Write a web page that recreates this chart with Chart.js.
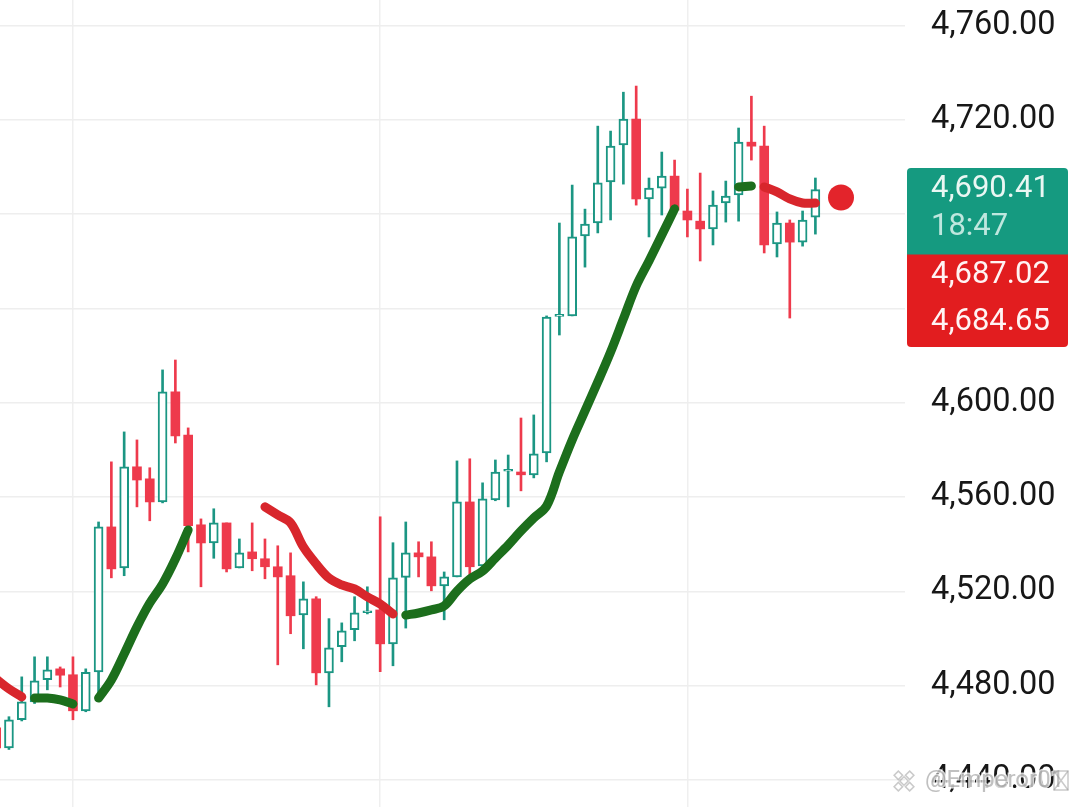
<!DOCTYPE html>
<html>
<head>
<meta charset="utf-8">
<script src="https://cdn.jsdelivr.net/npm/chart.js@4.4.1/dist/chart.umd.min.js"></script>
<style>
  html, body { margin: 0; padding: 0; background: #ffffff; }
  #wrap { width: 1080px; height: 807px; }
</style>
</head>
<body>
<div id="wrap"><canvas id="chart" width="1080" height="807"></canvas></div>
<script>
// bar number of each candle (the first one is only half on screen)
var barIndex = [-1, 0, 1, 2, 3, 4, 5, 6, 7, 8, 9, 10, 11, 12, 13, 14, 15, 16, 17, 18, 19,
    20, 21, 22, 23, 24, 25, 26, 27, 28, 29, 30, 31, 32, 33, 34, 35, 36, 37, 38, 39,
    40, 41, 42, 43, 44, 45, 46, 47, 48, 49, 50, 51, 52, 53, 54, 55, 56, 57, 58, 59,
    60, 61, 62, 63];

var opens = [4462.1, 4453.6, 4465.5, 4473.1, 4482.5, 4487.1, 4484.6, 4469.3, 4485.8, 4547.3,
    4529.9, 4572.8, 4567.7, 4557.9, 4604.6, 4586.3, 4548.2, 4540.5, 4549.0, 4529.9,
    4536.7, 4533.8, 4530.4, 4526.6, 4510.0, 4516.8, 4485.4, 4496.5, 4503.7, 4510.9,
    4512.1, 4497.7, 4525.9, 4536.3, 4534.6, 4522.3, 4526.1, 4557.9, 4530.8, 4558.8,
    4570.9, 4570.6, 4569.4, 4578.7, 4636.6, 4636.8, 4670.7, 4676.2, 4693.6, 4709.3,
    4720.3, 4686.4, 4691.0, 4696.1, 4681.3, 4677.0, 4673.7, 4684.7, 4688.1, 4710.5,
    4708.8, 4667.3, 4676.2, 4668.1, 4678.7];
var highs = [4463.5, 4466.8, 4483.7, 4492.2, 4492.2, 4487.9, 4492.2, 4487.1, 4549.4, 4574.9,
    4587.6, 4584.2, 4572.4, 4613.9, 4618.1, 4589.3, 4550.7, 4555.0, 4549.0, 4542.2,
    4549.0, 4542.2, 4539.3, 4536.3, 4524.0, 4517.7, 4508.4, 4506.6, 4517.7, 4521.9,
    4551.6, 4540.6, 4549.4, 4541.0, 4541.0, 4528.2, 4575.3, 4576.2, 4566.0, 4575.7,
    4577.8, 4593.5, 4594.8, 4636.8, 4676.2, 4692.3, 4682.1, 4717.3, 4715.2, 4731.7,
    4734.3, 4695.3, 4706.3, 4702.9, 4690.6, 4697.4, 4689.8, 4694.0, 4716.5, 4730.0,
    4717.3, 4680.9, 4677.5, 4681.3, 4695.3];
var lows = [4449.5, 4452.9, 4465.0, 4472.4, 4478.2, 4479.4, 4465.5, 4468.9, 4475.3, 4525.7,
    4526.6, 4555.8, 4549.9, 4557.5, 4582.9, 4536.7, 4521.9, 4534.0, 4528.2, 4529.9,
    4528.7, 4525.3, 4488.8, 4502.0, 4495.6, 4480.3, 4471.0, 4490.1, 4499.0, 4510.4,
    4485.9, 4488.4, 4504.4, 4526.1, 4520.2, 4507.9, 4526.1, 4526.1, 4530.8, 4558.4,
    4555.8, 4562.6, 4568.1, 4574.9, 4628.7, 4636.8, 4657.5, 4672.0, 4677.5, 4692.7,
    4683.8, 4670.3, 4679.6, 4681.7, 4670.3, 4660.1, 4666.9, 4676.6, 4677.0, 4702.9,
    4663.5, 4661.8, 4635.9, 4666.4, 4671.5];
var closes = [4453.6, 4465.5, 4473.1, 4482.0, 4486.7, 4484.4, 4469.3, 4485.6, 4547.3, 4529.5,
    4572.8, 4567.2, 4557.9, 4604.6, 4585.9, 4547.8, 4540.5, 4549.0, 4529.5, 4536.3,
    4533.8, 4530.4, 4526.1, 4509.6, 4516.8, 4485.4, 4496.0, 4503.2, 4510.9, 4511.7,
    4497.7, 4525.7, 4536.3, 4534.6, 4522.3, 4526.1, 4557.9, 4530.4, 4559.2, 4570.6,
    4571.3, 4569.4, 4578.3, 4636.3, 4637.0, 4670.3, 4675.8, 4693.2, 4708.8, 4720.3,
    4686.4, 4691.0, 4696.1, 4681.7, 4677.5, 4673.7, 4683.8, 4687.6, 4710.5, 4708.8,
    4666.9, 4676.2, 4668.1, 4677.5, 4690.41];

// trend line, split in rising (green) and falling (red) parts; null = no line there
var trendUp = [null, null, null, 4474.7, 4474.7, 4473.9, 4472.2, null, 4474.7, 4482.4,
    4493.4, 4504.9, 4515.0, 4523.1, 4533.7, 4546.0, null, null, null, null,
    null, null, null, null, null, null, null, null, null, null,
    null, null, 4509.9, 4510.8, 4512.1, 4513.8, 4520.1, 4525.2, 4528.6, 4534.1,
    4539.6, 4545.6, 4551.1, 4556.2, 4570.6, 4584.2, 4596.5, 4608.8, 4621.5, 4635.5,
    4649.5, 4660.1, 4671.1, 4682.2, null, null, null, null, 4691.5, 4691.9,
    null, null, null, null, null];
var trendDown = [4482.8, 4478.6, 4475.2, null, null, null, null, null, null, null,
    null, null, null, null, null, null, null, null, null, null,
    null, 4555.8, 4552.4, 4549.0, 4538.8, 4531.6, 4525.6, 4522.7, 4521.0, 4517.6,
    4514.6, 4510.4, null, null, null, null, null, null, null, null,
    null, null, null, null, null, null, null, null, null, null,
    null, null, null, null, null, null, null, null, null, null,
    4691.5, 4689.4, 4686.4, 4684.7, 4684.65];

var priceTicks = [4440, 4480, 4520, 4560, 4600, 4640, 4680, 4720, 4760];
var timeGrid = [5, 29, 53];

var dotIndex = 65;
var dotPrice = 4687.02;
var trendLast = 4684.65;
var countdown = "18:47";

const UP_COLOR = "#1b9683";
const DOWN_COLOR = "#ee3a4c";
const TREND_GREEN = "#1c6e1c";
const TREND_RED = "#d8262c";
const TAG_GREEN = "#159a80";
const TAG_RED = "#e21d1f";


function isUp(i) {
    return closes[i] >= opens[i];
}

function fmt(v) {
    return v.toLocaleString("en-US", { minimumFractionDigits: 2, maximumFractionDigits: 2 });
}

function points(values) {
    return barIndex.map(function (k, i) { return { x: k, y: values[i] }; });
}

// the labels must not push the plot away from the canvas edges
function noPadding(scale) {
    scale.paddingTop = 0;
    scale.paddingBottom = 0;
    scale.paddingLeft = 0;
    scale.paddingRight = 0;
}


// price tags on the axis and the watermark
var overlay = {
    id: "overlay",
    afterDraw: function (chart) {
        var c = chart.ctx;
        var y = chart.scales.y;
        var left = chart.chartArea.right + 2;
        var w = 161;
        var textX = left + 24;
        var top = Math.round(y.getPixelForValue(closes[closes.length - 1]) - 22);

        c.save();
        c.textBaseline = "middle";
        c.textAlign = "left";
        c.font = "31px Roboto";

        // red tags first so that they touch the green one without a seam
        c.fillStyle = TAG_RED;
        c.beginPath();
        c.roundRect(left, top + 80, w, 53, [0, 4, 0, 0]);
        c.fill();
        c.beginPath();
        c.roundRect(left, top + 132, w, 47, [0, 0, 4, 4]);
        c.fill();
        c.fillStyle = "#fff4f4";
        c.fillText(fmt(dotPrice), textX, top + 107);
        c.fillText(fmt(trendLast), textX, top + 154);

        c.fillStyle = TAG_GREEN;
        c.beginPath();
        c.roundRect(left, top, w, 86.5, [4, 4, 0, 0]);
        c.fill();
        c.fillStyle = "#eaf7f3";
        c.fillText(fmt(closes[closes.length - 1]), textX, top + 21);
        c.fillStyle = "#bfe7de";
        c.fillText(countdown, textX, top + 59);

        // watermark
        c.font = "24px Roboto";
        c.lineWidth = 3;
        c.strokeStyle = "rgba(255,255,255,0.8)";
        c.fillStyle = "rgba(140,140,140,0.55)";
        c.strokeText("@Emperor01", 925, 781);
        c.fillText("@Emperor01", 925, 781);

        c.strokeStyle = "rgba(150,150,150,0.5)";
        c.lineWidth = 1.5;
        c.translate(904, 781);
        c.rotate(Math.PI / 4);
        c.strokeRect(-3, -3, 6, 6);
        c.strokeRect(-11, -3, 6, 6);
        c.strokeRect(5, -3, 6, 6);
        c.strokeRect(-3, -11, 6, 6);
        c.strokeRect(-3, 5, 6, 6);
        c.rotate(-Math.PI / 4);
        c.translate(-904, -781);

        c.strokeRect(1054, 771, 14, 19);
        c.beginPath();
        c.moveTo(1054, 771); c.lineTo(1068, 790);
        c.moveTo(1068, 771); c.lineTo(1054, 790);
        c.stroke();
        c.restore();
    }
};


function initChart() {
    Chart.defaults.font.family = "Roboto";

    new Chart(document.getElementById("chart"), {
        type: "bar",
        data: {
            datasets: [
                {
                    type: "line",
                    label: "trend up",
                    data: points(trendUp),
                    borderColor: TREND_GREEN,
                    borderWidth: 9,
                    borderCapStyle: "round",
                    borderJoinStyle: "round",
                    pointRadius: 0,
                    tension: 0.35,
                    spanGaps: false,
                    order: 0,
                },
                {
                    type: "line",
                    label: "trend down",
                    data: points(trendDown),
                    borderColor: TREND_RED,
                    borderWidth: 9,
                    borderCapStyle: "round",
                    borderJoinStyle: "round",
                    pointRadius: 0,
                    tension: 0.35,
                    spanGaps: false,
                    order: 0,
                },
                {
                    type: "line",
                    label: "last",
                    data: [{ x: dotIndex, y: dotPrice }],
                    showLine: false,
                    pointRadius: 13,
                    pointBorderWidth: 0,
                    pointBackgroundColor: "#e3242b",
                    order: 0,
                },
                {
                    label: "body",
                    data: barIndex.map(function (k, i) { return { x: k, y: [opens[i], closes[i]] }; }),
                    backgroundColor: function (ctx) { return isUp(ctx.dataIndex) ? "#ffffff" : DOWN_COLOR; },
                    borderColor: function (ctx) { return isUp(ctx.dataIndex) ? UP_COLOR : DOWN_COLOR; },
                    borderWidth: function (ctx) { return isUp(ctx.dataIndex) ? 2 : 0; },
                    borderSkipped: false,
                    barThickness: 9,
                    minBarLength: 2,
                    grouped: false,
                    order: 1,
                },
                {
                    label: "wick",
                    data: barIndex.map(function (k, i) { return { x: k, y: [lows[i], highs[i]] }; }),
                    backgroundColor: function (ctx) { return isUp(ctx.dataIndex) ? UP_COLOR : DOWN_COLOR; },
                    borderWidth: 0,
                    barThickness: 2,
                    grouped: false,
                    order: 2,
                },
            ]
        },
        options: {
            responsive: false,
            animation: false,
            layout: { padding: 0, autoPadding: false },
            plugins: {
                legend: { display: false },
                tooltip: { enabled: false },
            },
            scales: {
                x: {
                    type: "linear",
                    min: -0.7,
                    max: 70,
                    offset: false,
                    grid: { color: "#efefef", lineWidth: 1.5, drawTicks: false, offset: false },
                    border: { display: false },
                    ticks: { display: false },
                    afterBuildTicks: function (scale) {
                        scale.ticks = timeGrid.map(function (v) { return { value: v }; });
                    },
                    afterFit: function (scale) {
                        scale.height = 0;
                        noPadding(scale);
                    },
                },
                y: {
                    type: "linear",
                    position: "right",
                    min: 4428.5,
                    max: 4770.8,
                    beginAtZero: false,
                    grid: { color: "#eeeeee", lineWidth: 1.5, drawTicks: false },
                    border: { display: false },
                    ticks: {
                        padding: 26,
                        autoSkip: false,
                        color: "#171717",
                        font: { family: "Roboto", size: 32.5 },
                        callback: function (v) { return fmt(v); },
                    },
                    afterBuildTicks: function (scale) {
                        scale.ticks = priceTicks.map(function (v) { return { value: v }; });
                    },
                    afterFit: function (scale) {
                        scale.width = 175;
                        noPadding(scale);
                    },
                },
            }
        },
        plugins: [overlay]
    });
}

initChart();
</script>
</body>
</html>
